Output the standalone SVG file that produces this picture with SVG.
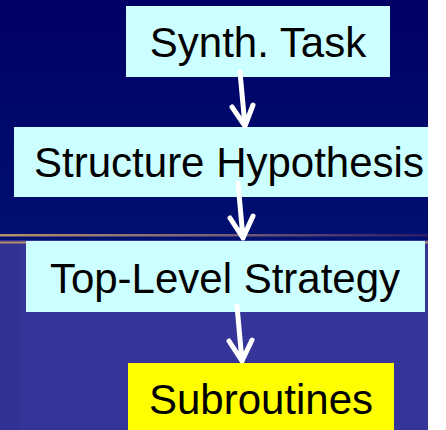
<svg xmlns="http://www.w3.org/2000/svg" width="446" height="430" viewBox="0 0 446 430">
<defs>
<linearGradient id="sky" x1="0" y1="0" x2="0" y2="1">
<stop offset="0" stop-color="#000066"/>
<stop offset="1" stop-color="#001070"/>
</linearGradient>
<linearGradient id="rule" x1="0" y1="0" x2="1" y2="0">
<stop offset="0" stop-color="#B89068"/>
<stop offset="0.5" stop-color="#7A6278"/>
<stop offset="1" stop-color="#2A1A6A"/>
</linearGradient>
<style>
.box{fill:#CCFFFF;}
.sub{fill:#FFFF00;}
.lbl{font-family:"Liberation Sans",Arial,sans-serif;font-size:42px;fill:#000;text-anchor:middle;}
.arr{fill:none;stroke:#FFFFFF;stroke-width:5;stroke-linecap:round;stroke-linejoin:round;}
</style>
</defs>
<rect x="0" y="0" width="446" height="430" fill="#FFFFFF"/>
<rect x="0" y="0" width="428" height="240" fill="url(#sky)"/>
<rect x="0" y="240" width="428" height="190" fill="#343499"/>
<rect x="0" y="240" width="20" height="190" fill="#313193"/>
<rect x="0" y="234" width="428" height="2.5" fill="url(#rule)"/>
<rect x="0" y="241.5" width="428" height="2" fill="#B89068"/>
<g id="node-synth"><rect class="box" x="126" y="6" width="264" height="71"/><text class="lbl" x="258" y="57">Synth. Task</text></g>
<g id="node-structure"><rect class="box" x="14" y="127" width="414" height="70"/><text class="lbl" x="229" y="177">Structure Hypothesis</text></g>
<g id="node-toplevel"><rect class="box" x="26" y="241" width="399" height="71"/><text class="lbl" x="225" y="293">Top-Level Strategy</text></g>
<g id="node-subroutines"><rect class="sub" x="128" y="363" width="266" height="67"/><text class="lbl" x="261" y="414">Subroutines</text></g>
<g id="connectors">
<path class="arr" d="M240,72 L245,126 M232,107 L245,126 L253,105"/>
<path class="arr" d="M238,183 L243,238 M230,218 L243,238 L253,216"/>
<path class="arr" d="M237,306 L242,361 M229,341 L242,361 L252,340"/>
</g>
</svg>
